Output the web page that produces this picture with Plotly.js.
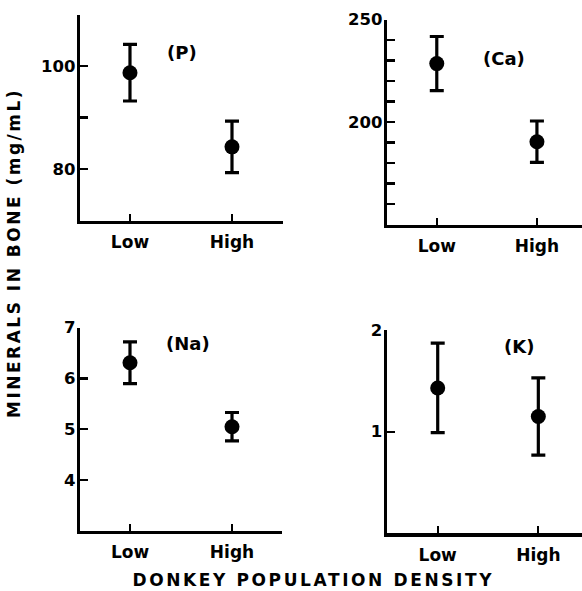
<!DOCTYPE html>
<html>
<head>
<meta charset="utf-8">
<script src="https://cdn.plot.ly/plotly-3.0.1.min.js"></script>
<style>
  html, body { margin: 0; padding: 0; background: #fff; }
  #chart { width: 582px; height: 591px; }
  .annotation[data-index="0"] text { letter-spacing: 2.5px; }
  .annotation[data-index="1"] text { letter-spacing: 2.6px; }
</style>
</head>
<body>
<div id="chart"></div>
<script>
const categories = ['Low', 'High'];

const pMean = [98.7, 84.3];
const pErr = [5.5, 5.0];
const caMean = [228.5, 190.4];
const caErr = [13.2, 10.1];
const naMean = [6.31, 5.05];
const naErr = [0.41, 0.28];
const kMean = [1.43, 1.15];
const kErr = [0.44, 0.38];

const pTickVals = [80, 90, 100, 110];
const pTickText = ['80', '', '100', ''];
const caTickVals = [160, 170, 180, 190, 200, 210, 220, 230, 240, 250];
const caTickText = ['', '', '', '', '200', '', '', '', '', '250'];
const naTickVals = [4, 5, 6, 7];
const naTickText = ['4', '5', '6', '7'];
const kTickVals = [1, 2];
const kTickText = ['1', '2'];

const panelLabels = ['(P)', '(Ca)', '(Na)', '(K)'];
const yTitle = 'MINERALS IN BONE (mg/mL)';
const xTitle = 'DONKEY POPULATION DENSITY';

const FONT = 'DejaVu Sans, Liberation Sans, sans-serif';
const W = 582, H = 591;
const px = v => v / W;
const py = v => 1 - v / H;

function trace(means, errs, xa, ya) {
  return {
    type: 'scatter', mode: 'markers',
    x: categories, y: means,
    xaxis: xa, yaxis: ya,
    marker: { color: '#000', size: 15 },
    error_y: { type: 'data', array: errs, visible: true, color: '#000', thickness: 3.2, width: 7 },
    showlegend: false, hoverinfo: 'none'
  };
}

function xAxis(domain, range, anchor) {
  return {
    domain: domain, range: range, anchor: anchor,
    type: 'category', categoryorder: 'array', categoryarray: categories,
    showline: true, linecolor: '#000', linewidth: 3.2,
    ticks: 'inside', ticklen: 7, tickwidth: 2.2, tickcolor: '#000',
    showgrid: false, zeroline: false, fixedrange: true,
    tickfont: { family: FONT, size: 17, color: '#000', weight: 'bold' },
    ticklabelstandoff: 4
  };
}

function yAxis(domain, range, anchor, vals, text) {
  return {
    domain: domain, range: range, anchor: anchor,
    showline: true, linecolor: '#000', linewidth: 3.2,
    ticks: 'inside', ticklen: 8, tickwidth: 2.2, tickcolor: '#000',
    tickmode: 'array', tickvals: vals, ticktext: text,
    showgrid: false, zeroline: false, fixedrange: true,
    tickfont: { family: FONT, size: 16.5, color: '#000', weight: 'bold' },
    ticklabelstandoff: -2
  };
}

const data = [
  trace(pMean, pErr, 'x', 'y'),
  trace(caMean, caErr, 'x2', 'y2'),
  trace(naMean, naErr, 'x3', 'y3'),
  trace(kMean, kErr, 'x4', 'y4')
];

const annFont = { family: FONT, size: 17, color: '#000', weight: 'bold' };
const labelPos = [[182, 53], [504, 58], [188, 343], [519, 346]];

const annotations = [
  { text: yTitle, xref: 'paper', yref: 'paper', x: px(14), y: py(253), textangle: -90,
    showarrow: false, xanchor: 'center', yanchor: 'middle', font: annFont },
  { text: xTitle, xref: 'paper', yref: 'paper', x: px(313), y: py(580),
    showarrow: false, xanchor: 'center', yanchor: 'middle', font: annFont }
].concat(panelLabels.map((t, i) => ({
  text: t, xref: 'paper', yref: 'paper', x: px(labelPos[i][0]), y: py(labelPos[i][1]),
  showarrow: false, xanchor: 'center', yanchor: 'middle', font: { family: FONT, size: 18, color: '#000', weight: 'bold' }
})));

const layout = {
  width: W, height: H,
  margin: { l: 0, r: 0, t: 0, b: 0, pad: 0 },
  paper_bgcolor: '#fff', plot_bgcolor: 'rgba(0,0,0,0)',
  showlegend: false,
  xaxis: xAxis([px(80), px(283)], [-0.49, 1.5], 'y'),
  yaxis: yAxis([py(220.5), py(14.5)], [70, 110], 'x', pTickVals, pTickText),
  xaxis2: xAxis([px(387), 1], [-0.497, 1.45], 'y2'),
  yaxis2: yAxis([py(224.5), py(19.5)], [150, 250], 'x2', caTickVals, caTickText),
  xaxis3: xAxis([px(80), px(282)], [-0.49, 1.49], 'y3'),
  yaxis3: yAxis([py(530.8), py(327.7)], [3, 7], 'x3', naTickVals, naTickText),
  xaxis4: xAxis([px(386.7), 1], [-0.507, 1.434], 'y4'),
  yaxis4: yAxis([py(533.4), py(330)], [0, 2], 'x4', kTickVals, kTickText),
  annotations: annotations
};

Plotly.newPlot('chart', data, layout, { staticPlot: true, displayModeBar: false });
</script>
</body>
</html>
